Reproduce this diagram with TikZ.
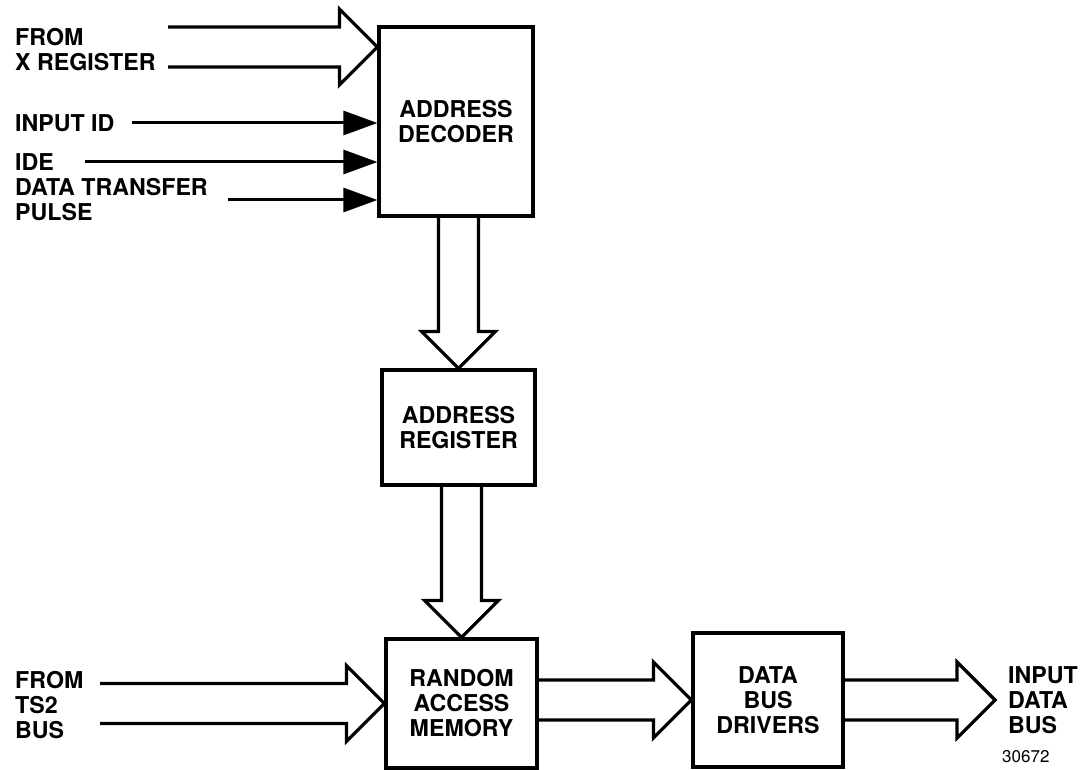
\documentclass[tikz,border=0pt]{standalone}
\usepackage{fontspec}
\setmainfont{TeX Gyre Heros}
\usetikzlibrary{arrows.meta,calc,positioning}

\begin{document}
\begin{tikzpicture}[x=1pt,y=-1pt,>=Stealth,
  every node/.style={font=\bfseries\fontsize{23.2}{25}\selectfont},
  box/.style={draw,line width=3.2pt,align=center,inner sep=0pt},
  lbl/.style={align=left,anchor=west,inner sep=0pt},
  bus/.style={line width=3.2pt,line join=miter},
  sig/.style={line width=3pt,-{Triangle[length=34pt,width=24pt]}}]
  \useasboundingbox (0,0) rectangle (1081,770);
  \node[box,minimum width=154pt,minimum height=189pt] (dec) at (456,121.5) {ADDRESS\\DECODER};
  \node[box,minimum width=153pt,minimum height=115pt] (reg) at (458.5,427.5) {ADDRESS\\REGISTER};
  \node[box,minimum width=151pt,minimum height=129pt] (ram) at (461.5,703.5) {RANDOM\\ACCESS\\MEMORY};
  \node[box,minimum width=150pt,minimum height=134pt] (drv) at (768,700) {DATA\\BUS\\DRIVERS};
  \node[lbl] (xlbl) at (15,50) {FROM\\X REGISTER};
  \node[lbl] (idlbl) at (15,123) {INPUT ID};
  \node[lbl] (idelbl) at (15,162) {IDE};
  \node[lbl] (dtplbl) at (15,200) {DATA TRANSFER\\PULSE};
  \node[lbl] (tslbl) at (15,705) {FROM\\TS2\\BUS};
  \node[lbl] (outlbl) at (1008,700) {INPUT\\DATA\\BUS};
  \node[lbl,font=\fontsize{17}{20}\selectfont] (num) at (1002,757) {30672};
  \coordinate (xin) at (168,47);
  \coordinate (xtip) at (xin -| dec.west);
  \coordinate (tsin) at (100,705);
  \coordinate (dout) at (995,700);
  \foreach \a/\b in {xin/xtip, tsin/ram.west, ram.east/drv.west, drv.east/dout}
    \draw[bus] ($(\a |- \b)+(0,-20)$) -- ($(\b)+(-38,-20)$) -- ($(\b)+(-38,-38)$) -- (\b)
      -- ($(\b)+(-38,38)$) -- ($(\b)+(-38,20)$) -- ($(\a |- \b)+(0,20)$);
  \foreach \a/\b in {dec/reg, reg/ram}
    \draw[bus] ($(\a.south -| \b.north)+(-20,0)$) -- ($(\b.north)+(-20,-37)$) -- ($(\b.north)+(-37,-37)$) -- (\b.north)
      -- ($(\b.north)+(37,-37)$) -- ($(\b.north)+(20,-37)$) -- ($(\a.south -| \b.north)+(20,0)$);
  \foreach \s/\x/\y in {id/132/123, ide/85/162, dtp/228/200} {
    \coordinate (\s) at (\x,\y);
    \draw[sig] (\s) -- (\s -| dec.west);
  }
\end{tikzpicture}
\end{document}
